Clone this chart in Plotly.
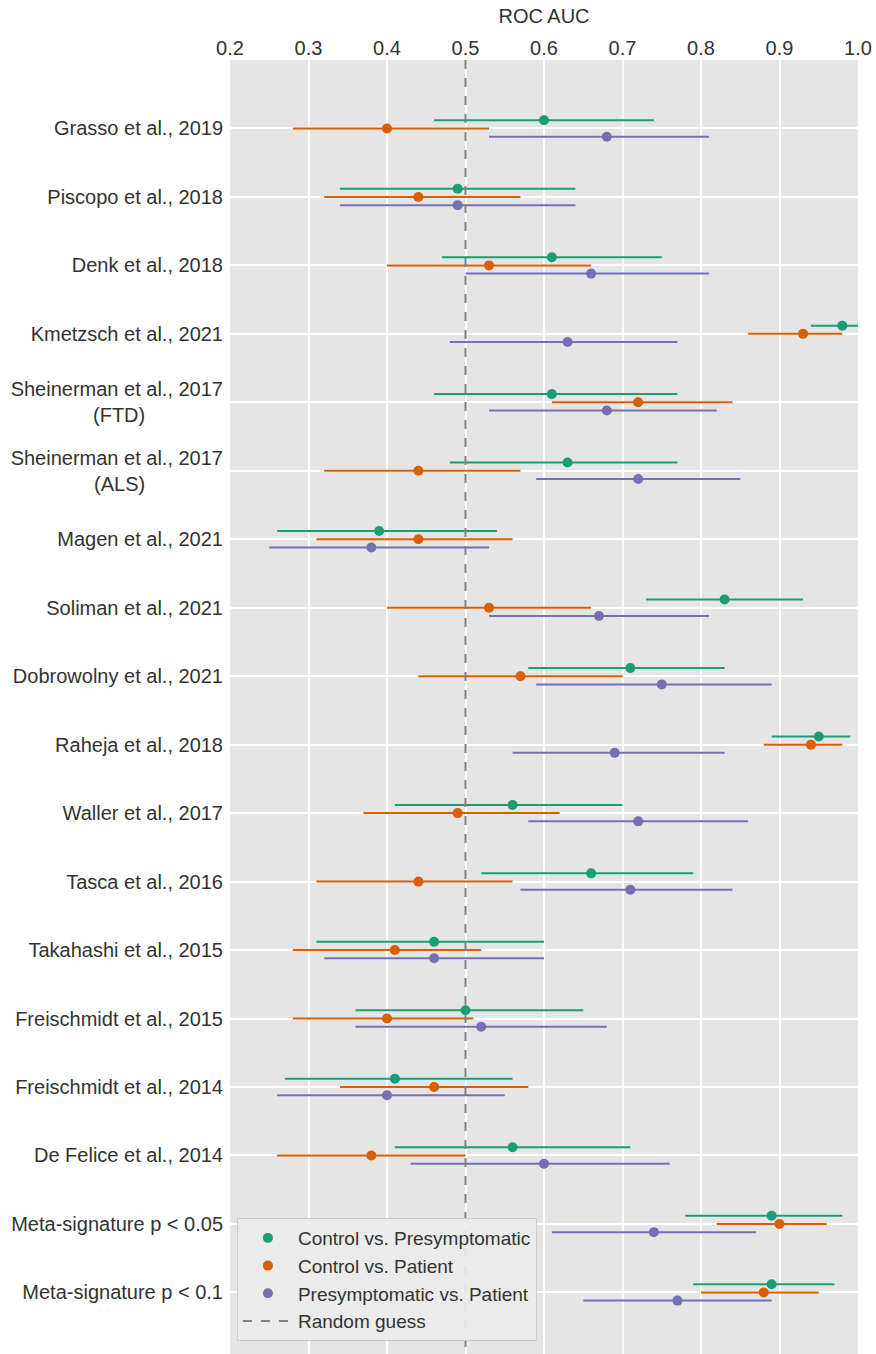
"""Forest plot of ROC AUC per study (Plotly)."""
import plotly.graph_objects as go

PAD = "\u00a0" * 14  # 讓第二行大致置中

studies = [
    "Grasso et al., 2019", "Piscopo et al., 2018", "Denk et al., 2018",
    "Kmetzsch et al., 2021", "Sheinerman et al., 2017<br>(FTD)" + PAD,
    "Sheinerman et al., 2017<br>(ALS)" + PAD, "Magen et al., 2021",
    "Soliman et al., 2021", "Dobrowolny et al., 2021", "Raheja et al., 2018",
    "Waller et al., 2017", "Tasca et al., 2016", "Takahashi et al., 2015",
    "Freischmidt et al., 2015", "Freischmidt et al., 2014", "De Felice et al., 2014",
    "Meta-signature p < 0.05", "Meta-signature p < 0.1",
]

# Control vs. Presymptomatic
cpre_auc = [0.60, 0.49, 0.61, 0.98, 0.61, 0.63, 0.39, 0.83, 0.71, 0.95, 0.56, 0.66, 0.46, 0.50, 0.41, 0.56, 0.89, 0.89]
cpre_lo = [0.46, 0.34, 0.47, 0.94, 0.46, 0.48, 0.26, 0.73, 0.58, 0.89, 0.41, 0.52, 0.31, 0.36, 0.27, 0.41, 0.78, 0.79]
cpre_hi = [0.74, 0.64, 0.75, 1.00, 0.77, 0.77, 0.54, 0.93, 0.83, 0.99, 0.70, 0.79, 0.60, 0.65, 0.56, 0.71, 0.98, 0.97]

# Control vs. Patient
cpat_auc = [0.40, 0.44, 0.53, 0.93, 0.72, 0.44, 0.44, 0.53, 0.57, 0.94, 0.49, 0.44, 0.41, 0.40, 0.46, 0.38, 0.90, 0.88]
cpat_lo = [0.28, 0.32, 0.40, 0.86, 0.61, 0.32, 0.31, 0.40, 0.44, 0.88, 0.37, 0.31, 0.28, 0.28, 0.34, 0.26, 0.82, 0.80]
cpat_hi = [0.53, 0.57, 0.66, 0.98, 0.84, 0.57, 0.56, 0.66, 0.70, 0.98, 0.62, 0.56, 0.52, 0.51, 0.58, 0.50, 0.96, 0.95]

# Presymptomatic vs. Patient
ppat_auc = [0.68, 0.49, 0.66, 0.63, 0.68, 0.72, 0.38, 0.67, 0.75, 0.69, 0.72, 0.71, 0.46, 0.52, 0.40, 0.60, 0.74, 0.77]
ppat_lo = [0.53, 0.34, 0.50, 0.48, 0.53, 0.59, 0.25, 0.53, 0.59, 0.56, 0.58, 0.57, 0.32, 0.36, 0.26, 0.43, 0.61, 0.65]
ppat_hi = [0.81, 0.64, 0.81, 0.77, 0.82, 0.85, 0.53, 0.81, 0.89, 0.83, 0.86, 0.84, 0.60, 0.68, 0.55, 0.76, 0.87, 0.89]

series = [
    ("Control vs. Presymptomatic", "#1b9e77", -0.12, cpre_auc, cpre_lo, cpre_hi),
    ("Control vs. Patient", "#d95f02", 0.0, cpat_auc, cpat_lo, cpat_hi),
    ("Presymptomatic vs. Patient", "#7570b3", 0.12, ppat_auc, ppat_lo, ppat_hi),
]

FONT = "Liberation Sans, Arial, sans-serif"
rows = list(range(len(studies)))
Y_RANGE = [17.9, -1.0]

fig = go.Figure()
for name, color, off, auc, lo, hi in series:
    fig.add_trace(go.Scatter(
        x=auc, y=[r + off for r in rows], mode="markers", name=name,
        marker=dict(color=color, size=10),
        error_x=dict(type="data", symmetric=False,
                     array=[h - a for a, h in zip(auc, hi)],
                     arrayminus=[a - l for a, l in zip(auc, lo)],
                     color=color, thickness=2, width=0),
    ))

# 隨機猜測參考線
fig.add_trace(go.Scatter(
    x=[0.5, 0.5], y=[Y_RANGE[1], Y_RANGE[0]], mode="lines", name="Random guess",
    line=dict(color="#808080", width=2, dash="dash"),
))

fig.update_layout(
    width=876, height=1354,
    margin=dict(l=230, r=18, t=60, b=0),
    paper_bgcolor="white", plot_bgcolor="#e5e5e5",
    font=dict(family=FONT, size=20, color="#333333"),
    showlegend=True,
    legend=dict(x=0.011, y=0.01, xanchor="left", yanchor="bottom",
                bgcolor="rgba(235,235,235,0.9)", bordercolor="#cccccc", borderwidth=1,
                font=dict(size=19, color="#333333"), tracegroupgap=0,
                itemwidth=50),
)
fig.update_xaxes(
    side="top", range=[0.2, 1.0], dtick=0.1, tickformat=".1f",
    showgrid=True, gridcolor="white", gridwidth=1.5, zeroline=False,
    title=dict(text="ROC AUC", font=dict(size=20), standoff=8),
    ticks="", showline=False, ticklabeloverflow="allow",
)
fig.update_yaxes(
    range=Y_RANGE, tickvals=rows, ticktext=studies,
    showgrid=True, gridcolor="white", gridwidth=1.5, zeroline=False,
    ticks="", showline=False, ticklabelstandoff=6,
)

# 去掉頁面 body 預設的 8px 邊距，並隱藏工具列
fig.write_html(
    "out.html",
    config={"displayModeBar": False},
    post_script="document.body.style.margin='0';document.body.style.overflow='hidden';",
)
